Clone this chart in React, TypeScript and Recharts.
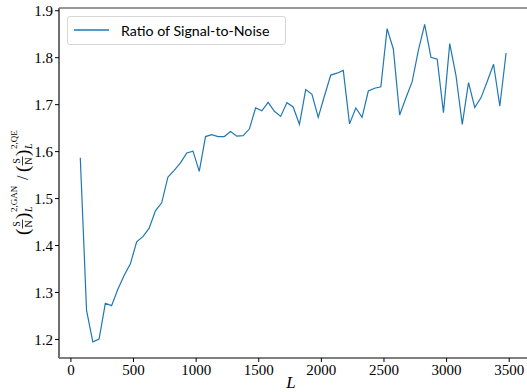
import React from 'react';
import { LineChart, Line, XAxis, YAxis, ReferenceLine } from 'recharts';

// Window length L for each measurement
const lengths = [
  75, 125, 175, 225, 275, 325, 375, 425, 475, 525,
  575, 625, 675, 725, 775, 825, 875, 925, 975, 1025,
  1075, 1125, 1175, 1225, 1275, 1325, 1375, 1425, 1475, 1525,
  1575, 1625, 1675, 1725, 1775, 1825, 1875, 1925, 1975, 2025,
  2075, 2125, 2175, 2225, 2275, 2325, 2375, 2425, 2475, 2525,
  2575, 2625, 2675, 2725, 2775, 2825, 2875, 2925, 2975, 3025,
  3075, 3125, 3175, 3225, 3275, 3325, 3375, 3425, 3475,
];

// Ratio of the two signal-to-noise values at each L
const ratios = [
  1.587, 1.262, 1.195, 1.201, 1.277, 1.272, 1.307, 1.336, 1.361, 1.408,
  1.419, 1.437, 1.474, 1.491, 1.546, 1.560, 1.576, 1.597, 1.601, 1.558,
  1.632, 1.636, 1.632, 1.632, 1.643, 1.633, 1.634, 1.648, 1.693, 1.687,
  1.705, 1.686, 1.675, 1.704, 1.695, 1.658, 1.732, 1.722, 1.673, 1.719,
  1.763, 1.767, 1.773, 1.659, 1.693, 1.673, 1.729, 1.735, 1.738, 1.862,
  1.818, 1.678, 1.714, 1.749, 1.816, 1.871, 1.801, 1.797, 1.683, 1.830,
  1.762, 1.658, 1.747, 1.694, 1.715, 1.750, 1.786, 1.697, 1.810,
];

const xTicks = [0, 500, 1000, 1500, 2000, 2500, 3000, 3500];
const yTicks = [1.2, 1.3, 1.4, 1.5, 1.6, 1.7, 1.8, 1.9];
const xDomain = [-95, 3642];
const yDomain = [1.1605, 1.9058];

const seriesName = 'Ratio of Signal-to-Noise';
const lineColor = '#1f77b4';

const data = lengths.map((L, i) => ({ L, ratio: ratios[i] }));

const serif = '"Liberation Serif", serif';
const sans = 'Lato, "DejaVu Sans", sans-serif';

// S over N stacked fraction, drawn at local x (centre)
const Frac = ({ x }: { x: number }) => (
  <g>
    <text x={x} y={-1} fontSize={10} textAnchor="middle" fontFamily={serif}>S</text>
    <line x1={x - 4.5} x2={x + 4.5} y1={1.5} y2={1.5} stroke="#000" strokeWidth={0.8} />
    <text x={x} y={10.5} fontSize={10} textAnchor="middle" fontFamily={serif}>N</text>
  </g>
);

const YLabel = (props: any) => {
  const vb = props.viewBox || { x: 0, y: 8, width: 59, height: 350 };
  const cy = vb.y + vb.height / 2 - 4;
  return (
    <g transform={`translate(21, ${cy}) rotate(-90)`} fill="#000">
      <text x={-56} y={8} fontSize={19} fontFamily={serif}>(</text>
      <Frac x={-45} />
      <text x={-40} y={8} fontSize={19} fontFamily={serif}>)</text>
      <text x={-33} y={11} fontSize={10} fontStyle="italic" fontFamily={serif}>L</text>
      <text x={-33} y={-4} fontSize={9} fontFamily={serif}>2,GAN</text>
      <text x={-1} y={7} fontSize={16} fontFamily={serif}>/</text>
      <text x={7} y={8} fontSize={19} fontFamily={serif}>(</text>
      <Frac x={18} />
      <text x={23} y={8} fontSize={19} fontFamily={serif}>)</text>
      <text x={30} y={11} fontSize={10} fontStyle="italic" fontFamily={serif}>L</text>
      <text x={30} y={-4} fontSize={9} fontFamily={serif}>2,QE</text>
    </g>
  );
};

const XLabel = (props: any) => {
  const vb = props.viewBox || { x: 59, y: 358, width: 468, height: 34 };
  return (
    <text
      x={vb.x + vb.width / 2 - 2}
      y={vb.y + vb.height - 4}
      textAnchor="middle"
      fontSize={17}
      fontStyle="italic"
      fontFamily={serif}
      fill="#000"
    >
      L
    </text>
  );
};

const LegendBox = () => (
  <div
    style={{
      position: 'absolute',
      left: 67,
      top: 16,
      width: 217,
      height: 27,
      border: '1px solid #d6d6d6',
      borderRadius: 3,
      background: 'rgba(255,255,255,0.8)',
      display: 'flex',
      alignItems: 'center',
      fontFamily: sans,
      fontSize: 14.2,
      color: '#000',
    }}
  >
    <svg width={50} height={27} style={{ display: 'block' }}>
      <line x1={6} x2={41} y1={13} y2={13} stroke={lineColor} strokeWidth={1.3} />
    </svg>
    <span style={{ marginLeft: 3, whiteSpace: 'nowrap' }}>{seriesName}</span>
  </div>
);

export default function App() {
  return (
    <div style={{ position: 'absolute', left: 0, top: 0, width: 527, height: 392, background: '#fff' }}>
      <LineChart width={527} height={392} data={data} margin={{ top: 8, right: 0, bottom: 0, left: 0 }}>
        <XAxis
          dataKey="L"
          type="number"
          domain={xDomain}
          ticks={xTicks}
          allowDataOverflow
          height={34}
          tickSize={4}
          tickMargin={2}
          stroke="#000"
          axisLine={{ stroke: '#000', strokeWidth: 1.2 }}
          tickLine={{ stroke: '#000' }}
          tick={{ fontFamily: serif, fontSize: 15, fill: '#000' }}
          label={<XLabel />}
        />
        <YAxis
          type="number"
          domain={yDomain}
          ticks={yTicks}
          allowDataOverflow
          width={59}
          tickSize={4}
          tickMargin={2}
          axisLine={{ stroke: '#6e6e6e', strokeWidth: 2 }}
          tickLine={{ stroke: '#000' }}
          tick={{ fontFamily: serif, fontSize: 15, fill: '#000' }}
          tickFormatter={(v: number) => v.toFixed(1)}
          label={<YLabel />}
        />
        <ReferenceLine y={yDomain[1]} stroke="#333" strokeWidth={1.2} />
        <Line
          type="linear"
          dataKey="ratio"
          name={seriesName}
          stroke={lineColor}
          strokeWidth={1.2}
          dot={false}
          isAnimationActive={false}
        />
      </LineChart>
      <LegendBox />
    </div>
  );
}
